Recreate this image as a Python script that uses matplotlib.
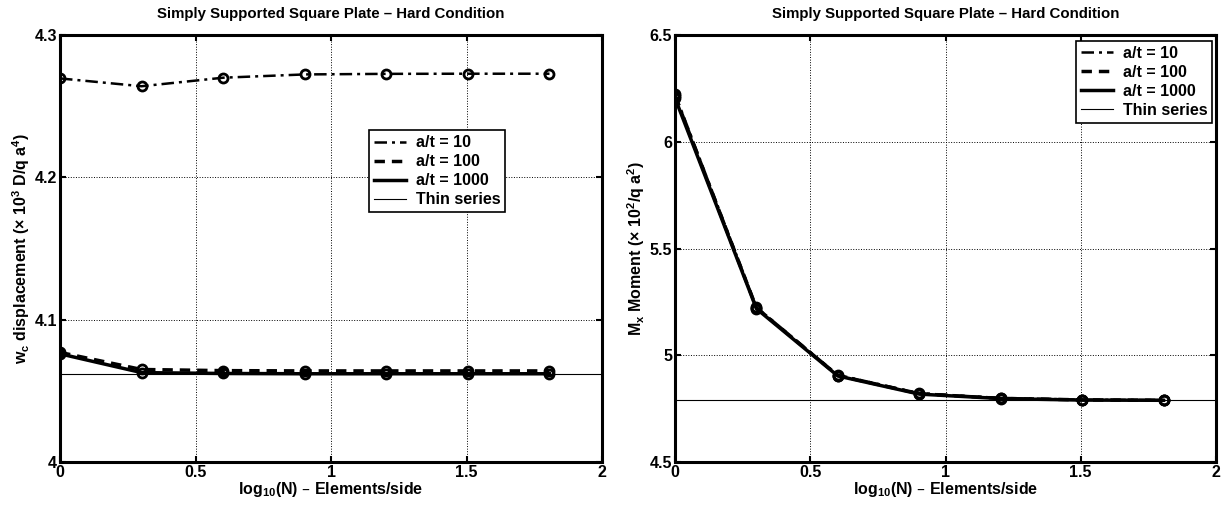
import numpy as np
import matplotlib
matplotlib.use("Agg")
import matplotlib.pyplot as plt
from matplotlib.lines import Line2D

plt.rcParams['font.family'] = ['Liberation Sans', 'DejaVu Sans']
plt.rcParams['font.weight'] = 'bold'
plt.rcParams['mathtext.default'] = 'regular'

#-------datos---------
N = np.array([1, 2, 4, 8, 16, 32, 64])
x = np.log10(N)

w_10 = [4.2695, 4.2640, 4.2700, 4.2723, 4.2727, 4.2728, 4.2728]
w_100 = [4.0770, 4.0650, 4.0642, 4.0640, 4.0640, 4.0640, 4.0640]
w_1000 = [4.0760, 4.0628, 4.0622, 4.0620, 4.0620, 4.0620, 4.0620]
w_thin = 4.0620

m_10 = [6.225, 5.225, 4.908, 4.822, 4.800, 4.792, 4.790]
m_100 = [6.215, 5.222, 4.905, 4.820, 4.798, 4.791, 4.789]
m_1000 = [6.205, 5.218, 4.903, 4.818, 4.797, 4.790, 4.789]
m_thin = 4.789

labels = ['a/t = 10', 'a/t = 100', 'a/t = 1000', 'Thin series']
title = 'Simply Supported Square Plate \u2013 Hard Condition'
xlab = 'log$_{10}$(N) \u2013 Elements/side'

# estilos: (linestyle, linewidth)
estilos = [((0, (5, 2, 1.2, 2)), 1.8), ((0, (3, 2)), 2.5), ('-', 2.5), ('-', 0.8)]

fig = plt.figure(figsize=(12.31, 5.08), dpi=100)
ax1 = fig.add_axes([60/1231, 46/508, 542/1231, 427/508])
ax2 = fig.add_axes([675/1231, 46/508, 541/1231, 427/508])


def dibujar(ax, s10, s100, s1000, thin):
    for s, (ls, lw) in zip([s10, s100, s1000], estilos[:3]):
        ax.plot(x, s, linestyle=ls, color='k', lw=lw,
                marker='o', mfc='none', mec='k', ms=6.5, mew=2)
    ax.axhline(thin, color='k', lw=estilos[3][1])
    ax.set_xlim(0, 2)
    ax.set_xticks([0, 0.5, 1, 1.5, 2])
    ax.set_xticklabels(['0', '0.5', '1', '1.5', '2'])
    ax.grid(True, linestyle=':', color='k', lw=0.7)
    ax.tick_params(direction='in', top=True, right=True, labelsize=11.5,
                   width=1.5, length=4, pad=2)
    for sp in ax.spines.values():
        sp.set_linewidth(2.2)
    ax.set_title(title, fontsize=10.8, fontweight='bold', pad=12)
    ax.set_xlabel(xlab, fontsize=11.5, fontweight='bold', labelpad=0)


def leyenda(ax, **kw):
    h = [Line2D([], [], color='k', linestyle=ls, lw=lw) for ls, lw in estilos]
    leg = ax.legend(h, labels, fontsize=11.5, fancybox=False, framealpha=1,
                    edgecolor='k', handlelength=2.0, handletextpad=0.6,
                    borderpad=0.3, labelspacing=0.25, borderaxespad=0, **kw)
    leg.get_frame().set_linewidth(1.2)


dibujar(ax1, w_10, w_100, w_1000, w_thin)
ax1.set_ylim(4, 4.3)
ax1.set_yticks([4, 4.1, 4.2, 4.3])
ax1.set_yticklabels(['4', '4.1', '4.2', '4.3'])
ax1.set_ylabel(r'w$_c$ displacement ($\times$ 10$^3$ D/q a$^4$)',
               fontsize=11.5, fontweight='bold', labelpad=2)
leyenda(ax1, loc='center right', bbox_to_anchor=(0.821, 0.681))

dibujar(ax2, m_10, m_100, m_1000, m_thin)
ax2.set_ylim(4.5, 6.5)
ax2.set_yticks([4.5, 5, 5.5, 6, 6.5])
ax2.set_yticklabels(['4.5', '5', '5.5', '6', '6.5'])
ax2.set_ylabel(r'M$_x$ Moment ($\times$ 10$^2$/q a$^2$)',
               fontsize=11.5, fontweight='bold', labelpad=2)
leyenda(ax2, loc='upper right', bbox_to_anchor=(0.9926, 0.986))

fig.savefig('out.png', dpi=100)
